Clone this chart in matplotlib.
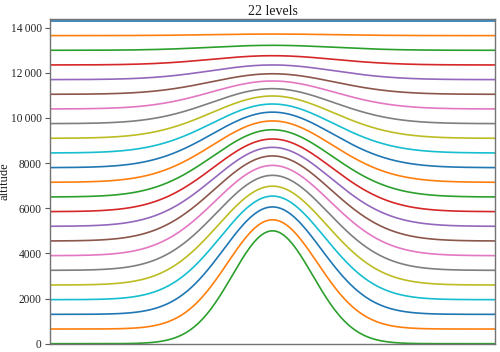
import numpy as np
import matplotlib
matplotlib.use("Agg")
import matplotlib.pyplot as plt

title = "22 levels"
ylabel = "altitude"

# baseline altitude of each level line (m), bottom to top
base_alt = [0, 650, 1300, 1950, 2600, 3250, 3900, 4550, 5200, 5850, 6500,
            7150, 7800, 8450, 9100, 9750, 10400, 11050, 11700, 12350, 13000,
            13650, 14300]
# altitude of each line above the hill crest (m)
peak_alt = [5000, 5490, 6060, 6540, 6980, 7460, 7900, 8320, 8700, 9070, 9480,
            9870, 10260, 10620, 10975, 11300, 11640, 11960, 12350, 12760, 13220,
            13720, 14300]
# e-folding half-width of the bump of each line (km)
bump_width = [25.5, 28.5, 31.0, 33.0, 34.5, 35.5, 36.3, 36.9, 37.3, 37.6, 37.9,
              38.1, 38.3, 38.5, 38.6, 38.7, 38.8, 38.9, 39.0, 39.0, 39.0,
              39.0, 39.0]

ytick_vals = [0, 2000, 4000, 6000, 8000, 10000, 12000, 14000]
ytick_labels = ["0", "2000", "4000", "6000", "8000",
                "10\u2009000", "12\u2009000", "14\u2009000"]

x_km = np.linspace(-100, 100, 801)

plt.rcParams['font.family'] = ['Liberation Serif', 'DejaVu Serif']
fig = plt.figure(figsize=(5.0, 3.52), dpi=100)
ax = fig.add_axes([0.10, 0.0236, 0.89, 0.9233])

colors = plt.rcParams['axes.prop_cycle'].by_key()['color']
n = len(base_alt)
# plotted from the top level down, so the top line takes the first colour
for k, i in enumerate(range(n - 1, -1, -1)):
    b = base_alt[i]
    amp = peak_alt[i] - b
    w = bump_width[i]
    z = b + amp * np.exp(-(x_km / w) ** 2)
    ax.plot(x_km, z, color=colors[k % len(colors)], lw=1.2)

ax.set_xlim(-100, 100)
ax.set_ylim(0, 14400)
ax.set_xticks([])
ax.set_yticks(ytick_vals)
ax.set_yticklabels(ytick_labels, fontsize=8.3, color='0.15')
ax.tick_params(axis='y', length=3.5, width=0.8, color='0.35', pad=2.5)
for s in ax.spines.values():
    s.set_color('0.45')
    s.set_linewidth(1.0)
ax.set_title(title, fontsize=10, pad=3, color='0.1')
ax.set_ylabel(ylabel, fontsize=9, color='0.1')
ax.yaxis.set_label_coords(-0.088, 0.5)

fig.savefig("out.png", dpi=100)
